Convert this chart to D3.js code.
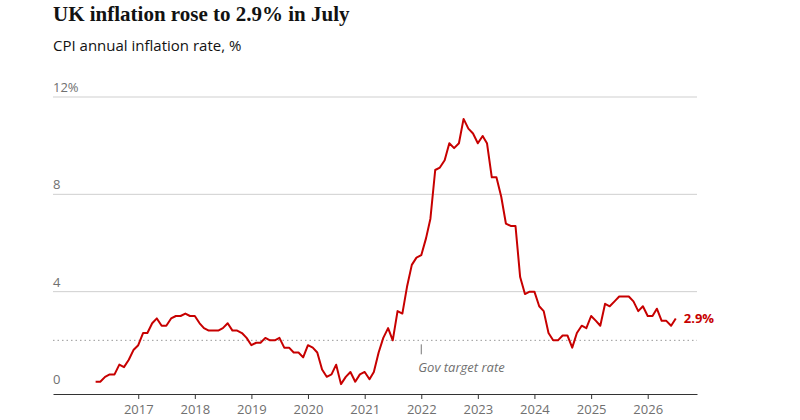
<!DOCTYPE html>
<html><head><meta charset="utf-8">
<script src="https://cdn.jsdelivr.net/npm/d3@7"></script>
<style>body{margin:0;background:#fff}</style>
</head><body>
<svg id="chart" width="800" height="420"></svg>
<script>
const startMonth = new Date(2016, 3, 1);
const cpi = [0.3,0.3,0.5,0.6,0.6,1.0,0.9,1.2,1.6,1.8,2.3,2.3,2.7,2.9,2.6,2.6,2.9,3.0,3.0,3.1,3.0,3.0,2.7,2.5,
  2.4,2.4,2.4,2.5,2.7,2.4,2.4,2.3,2.1,1.8,1.9,1.9,2.1,2.0,2.0,2.1,1.7,1.7,1.5,1.5,1.3,1.8,1.7,1.5,
  0.8,0.5,0.6,1.0,0.2,0.5,0.7,0.3,0.6,0.7,0.4,0.7,1.5,2.1,2.5,2.0,3.2,3.1,4.2,5.1,5.4,5.5,6.2,7.0,
  9.0,9.1,9.4,10.1,9.9,10.1,11.1,10.7,10.5,10.1,10.4,10.1,8.7,8.7,7.9,6.8,6.7,6.7,4.6,3.9,4.0,4.0,3.4,3.2,
  2.3,2.0,2.0,2.2,2.2,1.7,2.3,2.6,2.5,3.0,2.8,2.6,3.5,3.4,3.6,3.8,3.8,3.8,3.6,3.2,3.4,3.0,3.0,3.3,
  2.8,2.8,2.6,2.9];
const yTicks = [0, 4, 8, 12];
const years = [2017,2018,2019,2020,2021,2022,2023,2024,2025,2026];
const target = 2;

const data = cpi.map((v, i) => ({date: d3.timeMonth.offset(startMonth, i), value: v}));
const svg = d3.select("#chart");
const left = 53, right = 697;

// 57px per year, 2017 at x=134
const x = d3.scaleTime()
  .domain([new Date(2015, 6, 1), new Date(2026, 10, 15)])
  .range([left, right]);
const y = d3.scaleLinear().domain([0, 12]).range([389, 97]);

svg.append("text").attr("x", 53).attr("y", 21)
  .attr("font-family", "Liberation Serif, DejaVu Serif, serif").attr("font-weight", "bold")
  .attr("font-size", 21).attr("fill", "#121212").text("UK inflation rose to 2.9% in July");
svg.append("text").attr("x", 53).attr("y", 51)
  .attr("font-family", "Open Sans, sans-serif").attr("font-size", 15)
  .attr("fill", "#121212").text("CPI annual inflation rate, %");

svg.append("g").selectAll("line").data(yTicks.filter(d => d > 0)).join("line")
  .attr("x1", left).attr("x2", right).attr("y1", d => y(d)).attr("y2", d => y(d))
  .attr("stroke", "#cfcfcf");
svg.append("g").selectAll("text").data(yTicks).join("text")
  .attr("x", left).attr("y", d => y(d) - 5)
  .attr("font-family", "Open Sans, sans-serif").attr("font-size", 13).attr("fill", "#707070")
  .text(d => d === 12 ? "12%" : d);

svg.append("line").attr("x1", left).attr("x2", right).attr("y1", y(target)).attr("y2", y(target))
  .attr("stroke", "#999").attr("stroke-dasharray", "1.5,3");
const tx = x(new Date(2022, 0, 1));
svg.append("line").attr("x1", tx).attr("x2", tx).attr("y1", y(target) + 4).attr("y2", y(target) + 14)
  .attr("stroke", "#777");
svg.append("text").attr("x", tx - 3).attr("y", y(target) + 32)
  .attr("font-family", "Open Sans, sans-serif").attr("font-style", "italic").attr("font-size", 13)
  .attr("fill", "#707070").text("Gov target rate");

const xAxis = svg.append("g").attr("transform", `translate(0,${y(0) + 5})`)
  .call(d3.axisBottom(x).tickValues(years.map(yr => new Date(yr, 0, 1)))
    .tickFormat(d3.timeFormat("%Y")).tickSize(5).tickSizeOuter(0));
xAxis.select(".domain").attr("stroke", "#333");
xAxis.selectAll(".tick line").attr("stroke", "#333");
xAxis.selectAll("text").attr("font-family", "Open Sans, sans-serif").attr("font-size", 13)
  .attr("fill", "#707070").attr("dy", "0.9em");

svg.append("path").datum(data)
  .attr("fill", "none").attr("stroke", "#c70000").attr("stroke-width", 2)
  .attr("stroke-linejoin", "round")
  .attr("d", d3.line().x(d => x(d.date)).y(d => y(d.value)));

const last = data[data.length - 1];
svg.append("text").attr("x", x(last.date) + 8).attr("y", y(last.value) + 5)
  .attr("font-family", "Open Sans, sans-serif").attr("font-weight", "bold").attr("font-size", 13)
  .attr("fill", "#c70000").text(last.value + "%");
</script>
</body></html>
